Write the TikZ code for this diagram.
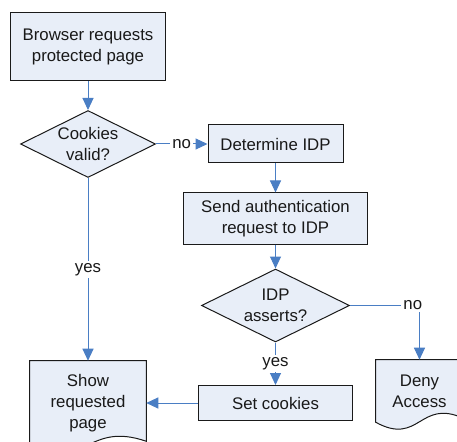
\documentclass[tikz,border=0pt]{standalone}
\usepackage{fontspec}
\setmainfont{Liberation Sans}
\usetikzlibrary{shapes.geometric,arrows.meta,calc,backgrounds}
\definecolor{boxfill}{HTML}{E8EEF8}
\definecolor{flowblue}{HTML}{4A7EC4}
\definecolor{boxedge}{HTML}{1A1A1A}

\begin{document}
\begin{tikzpicture}[x=0.75pt,y=-0.75pt,
  every node/.style={font=\fontsize{12.6}{16}\selectfont, text=black!90, align=center},
  procbox/.style={draw=boxedge, fill=boxfill, line width=0.75pt, inner sep=0pt},
  decision/.style={diamond, aspect=2, draw=boxedge, fill=boxfill, line width=0.75pt, inner sep=0pt},
  docbox/.style={inner sep=0pt},
  docline/.style={draw=boxedge, fill=boxfill, line width=0.75pt},
  flow/.style={draw=flowblue, line width=0.75pt, -{Triangle[length=9pt,width=8.25pt]}},
  lbl/.style={fill=white, inner sep=1.5pt}]
\useasboundingbox (0,0) rectangle (457,442);
%process boxes and decisions
\node[procbox, minimum width=116.25pt, minimum height=51pt] (browser) at (88,47) {Browser requests\\protected page};
\node[decision, minimum width=101.25pt, minimum height=50.25pt] (cookies) at (88,144) {Cookies\\valid?};
\node[procbox, minimum width=101.25pt, minimum height=28.5pt] (idp) at (275.5,144) {Determine IDP};
\node[procbox, minimum width=138pt, minimum height=38.25pt] (send) at (275.5,218.5) {Send authentication\\request to IDP};
\node[decision, minimum width=111pt, minimum height=54.75pt] (asserts) at (275.5,305.5) {IDP\\asserts?};
\node[procbox, minimum width=115.5pt, minimum height=26.25pt] (setck) at (275.5,403) {Set cookies};
%documents
\node[docbox, minimum width=87pt, minimum height=63pt] (show) at (88,403) {Show\\requested\\page};
\node[docbox, minimum width=65.25pt, minimum height=46.5pt] (deny) at (419.5,391) {Deny\\Access};
\begin{scope}[on background layer]
\fill[white] (0,0) rectangle (457,442);
\foreach \dc in {show,deny}{
	\draw[docline] (\dc.north west) -- (\dc.north east) -- ($(\dc.south east)+(0,-4)$)
		.. controls ($(\dc.south)+(0,-24)$) and ($(\dc.south)+(0,24)$) .. (\dc.south west) -- cycle;
}
\end{scope}
%connectors
\draw[flow] (browser.south) -- (cookies.north);
\draw[flow] (cookies.east) -- node[lbl]{no} (idp.west);
\draw[flow] (idp.south) -- (send.north);
\draw[flow] (send.south) -- (asserts.north);
\draw[flow] (asserts.east) -| node[lbl, pos=0.5, xshift=-5pt]{no} (deny.north);
\draw[flow] (cookies.south) -- node[lbl]{yes} (show.north);
\draw[flow] (asserts.south) -- node[lbl]{yes} (setck.north);
\draw[flow] (setck.west) -- (show.east);
\end{tikzpicture}
\end{document}
